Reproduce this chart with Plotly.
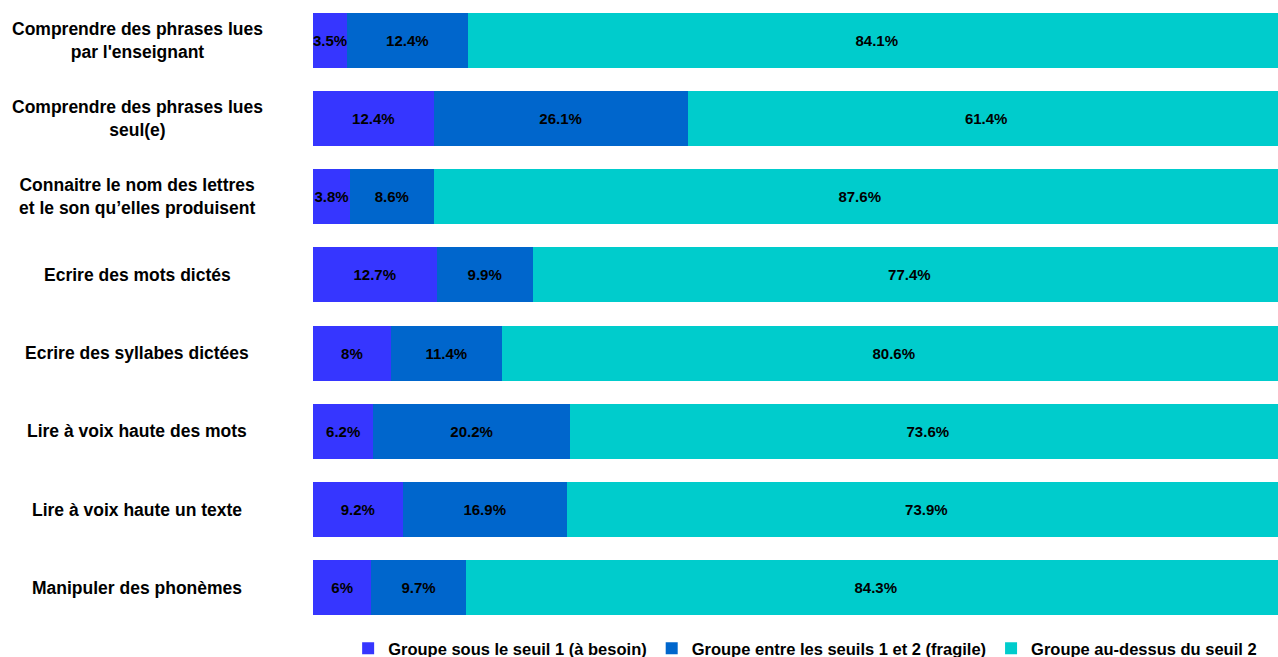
import plotly.graph_objects as go

categories = [
    "Comprendre des phrases lues<br>par l'enseignant",
    "Comprendre des phrases lues<br>seul(e)",
    "Connaitre le nom des lettres<br>et le son qu’elles produisent",
    "Ecrire des mots dictés",
    "Ecrire des syllabes dictées",
    "Lire à voix haute des mots",
    "Lire à voix haute un texte",
    "Manipuler des phonèmes",
]
cat_ids = [f"c{i}" for i in range(len(categories))]

besoin = [3.5, 12.4, 3.8, 12.7, 8, 6.2, 9.2, 6]
fragile = [12.4, 26.1, 8.6, 9.9, 11.4, 20.2, 16.9, 9.7]
au_dessus = [84.1, 61.4, 87.6, 77.4, 80.6, 73.6, 73.9, 84.3]

series = [
    ("Groupe sous le seuil 1 (à besoin)", besoin, "#3636FF"),
    ("Groupe entre les seuils 1 et 2 (fragile)", fragile, "#0066CC"),
    ("Groupe au-dessus du seuil 2", au_dessus, "#00CCCC"),
]

FONT = "Liberation Sans, Arial, sans-serif"

fig = go.Figure()
for name, vals, color in series:
    fig.add_trace(go.Bar(
        name=name,
        y=cat_ids,
        x=vals,
        orientation="h",
        marker=dict(color=color, line=dict(width=0)),
        text=[f"{v:g}%" for v in vals],
        textposition="inside",
        insidetextanchor="middle",
        textangle=0,
        textfont=dict(family=FONT, size=15, color="black", weight="bold"),
        width=0.7,
    ))

for cid, label in zip(cat_ids, categories):
    fig.add_annotation(
        x=-0.182, xref="paper", y=cid, yref="y",
        text=label, showarrow=False, xanchor="center", yanchor="middle",
        align="center",
        font=dict(family=FONT, size=17.5, color="black", weight="bold"),
    )

fig.update_layout(
    barmode="stack",
    width=1278, height=657,
    margin=dict(l=313, r=0, t=1, b=30),
    paper_bgcolor="white", plot_bgcolor="white",
    uniformtext=dict(minsize=15, mode="show"),
    showlegend=True,
    legend=dict(
        orientation="h", traceorder="normal",
        xref="container", yref="container",
        x=0.630, xanchor="center", y=0.013, yanchor="middle",
        font=dict(family=FONT, size=16.5, color="black", weight="bold"),
        itemsizing="constant",
    ),
    xaxis=dict(range=[0, 99.2], visible=False, fixedrange=True),
    yaxis=dict(autorange="reversed", showticklabels=False, showgrid=False,
               zeroline=False, showline=False, ticks="", fixedrange=True),
)

fig.write_html(
    "out.html",
    config={"displayModeBar": False},
    post_script="document.body.style.margin='0';document.body.style.overflow='hidden';",
)
